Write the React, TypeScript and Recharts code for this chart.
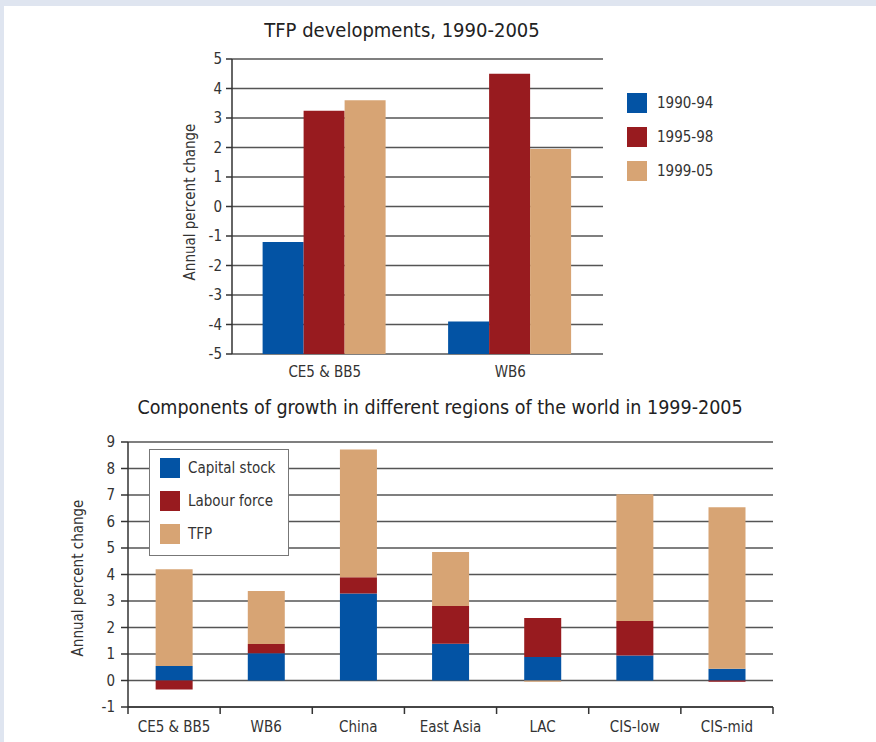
import { Bar, BarChart, CartesianGrid, XAxis, YAxis } from "recharts"

// top chart: TFP developments
const tfpGroups = ["CE5 & BB5", "WB6"]
const tfp1990to94 = [-1.2, -3.9]
const tfp1995to98 = [3.25, 4.5]
const tfp1999to05 = [3.6, 1.95]
const tfpTicks = [-5, -4, -3, -2, -1, 0, 1, 2, 3, 4, 5]

// bottom chart: components of growth 1999-2005
const regions = ["CE5 & BB5", "WB6", "China", "East Asia", "LAC", "CIS-low", "CIS-mid"]
const capitalStock = [0.55, 1.03, 3.28, 1.39, 0.89, 0.94, 0.44]
const labourForce = [-0.34, 0.35, 0.62, 1.42, 1.47, 1.31, -0.05]
const tfpShare = [3.65, 2.0, 4.82, 2.04, -0.05, 4.78, 6.1]
const growthTicks = [-1, 0, 1, 2, 3, 4, 5, 6, 7, 8, 9]

const BLUE = "#0353a4"
const RED = "#981b1f"
const TAN = "#d7a474"
const GRID = "#555"
const FONT = "'Liberation Sans Narrow', 'DejaVu Sans Condensed', 'Roboto', sans-serif"

// the original draws these bars up from the bottom of the axis, not from zero
const tfpBase = tfpTicks[0]
const tfpData = tfpGroups.map((name, i) => ({
  name,
  p1: [tfpBase, tfp1990to94[i]],
  p2: [tfpBase, tfp1995to98[i]],
  p3: [tfpBase, tfp1999to05[i]],
}))

const growthData = regions.map((name, i) => ({
  name,
  capital: capitalStock[i],
  labour: labourForce[i],
  tfp: tfpShare[i],
}))

const topLegend = [
  { label: "1990-94", color: BLUE },
  { label: "1995-98", color: RED },
  { label: "1999-05", color: TAN },
]
const bottomLegend = [
  { label: "Capital stock", color: BLUE },
  { label: "Labour force", color: RED },
  { label: "TFP", color: TAN },
]

// bottom chart layout
const B_LEFT = 128
const B_RIGHT = 773
const B_TOP = 52
const B_BOTTOM = 317
const bandWidth = (B_RIGHT - B_LEFT) / regions.length

const RegionTick = ({ x, index, payload }: any) => {
  const left = x - bandWidth / 2
  const right = x + bandWidth / 2
  return (
    <g>
      <line x1={left} x2={left} y1={B_BOTTOM} y2={B_BOTTOM + 7} stroke="#333" strokeWidth={1.5} />
      {index === regions.length - 1 && (
        <line x1={right} x2={right} y1={B_BOTTOM} y2={B_BOTTOM + 7} stroke="#333" strokeWidth={1.5} />
      )}
      <text x={x} y={B_BOTTOM + 20} dy="0.35em" textAnchor="middle" fill="#333" fontSize={15} fontFamily={FONT}>
        {payload.value}
      </text>
    </g>
  )
}

const GroupTick = ({ x, payload }: any) => (
  <text x={x} y={372} dy="0.35em" textAnchor="middle" fill="#333" fontSize={15} fontFamily={FONT}>
    {payload.value}
  </text>
)

const AxisTitle = ({ cx, cy, text }: { cx: number; cy: number; text: string }) => (
  <div
    style={{
      position: "absolute",
      left: cx - 110,
      top: cy - 10,
      width: 220,
      height: 20,
      lineHeight: "20px",
      textAlign: "center",
      fontSize: 15,
      color: "#333",
      transform: "rotate(-90deg)",
    }}
  >
    {text}
  </div>
)

export default function App() {
  const tickStyle = { fill: "#333", fontSize: 15, fontFamily: FONT }
  return (
    <div
      style={{
        position: "absolute",
        left: 0,
        top: 0,
        width: 876,
        height: 742,
        background: "#dfe5f0",
        fontFamily: FONT,
        overflow: "hidden",
      }}
    >
      <div style={{ position: "absolute", left: 4, top: 6, width: 872, height: 736, background: "#fff" }} />

      <div style={{ position: "absolute", left: 0, top: 18, width: 804, textAlign: "center", fontSize: 20, color: "#222" }}>
        TFP developments, 1990-2005
      </div>
      <AxisTitle cx={190} cy={202} text="Annual percent change" />

      <div style={{ position: "absolute", left: 0, top: 0 }}>
        <BarChart
          width={876}
          height={390}
          data={tfpData}
          margin={{ top: 59, right: 273, bottom: 6, left: 182 }}
          barCategoryGap="16.5%"
          barGap={0}
        >
          <CartesianGrid vertical={false} stroke={GRID} strokeWidth={1.5} />
          <XAxis dataKey="name" axisLine={false} tickLine={false} height={30} tick={<GroupTick />} />
          <YAxis
            width={50}
            domain={[-5, 5]}
            ticks={tfpTicks}
            interval={0}
            axisLine={{ stroke: "#333", strokeWidth: 1.5 }}
            tickLine={{ stroke: "#333", strokeWidth: 1.5 }}
            tickSize={6}
            tickMargin={4}
            tick={tickStyle}
          />
          <Bar dataKey="p1" fill={BLUE} isAnimationActive={false} />
          <Bar dataKey="p2" fill={RED} isAnimationActive={false} />
          <Bar dataKey="p3" fill={TAN} isAnimationActive={false} />
        </BarChart>
      </div>

      {topLegend.map((item, i) => (
        <div key={item.label} style={{ position: "absolute", left: 627, top: 93 + i * 34, height: 20, display: "flex", alignItems: "center" }}>
          <div style={{ width: 20, height: 20, background: item.color }} />
          <span style={{ marginLeft: 10, fontSize: 15, color: "#333" }}>{item.label}</span>
        </div>
      ))}

      <div style={{ position: "absolute", left: 0, top: 396, width: 880, textAlign: "center", fontSize: 19.5, color: "#222" }}>
        Components of growth in different regions of the world in 1999-2005
      </div>
      <AxisTitle cx={78} cy={578} text="Annual percent change" />

      <div style={{ position: "absolute", left: 0, top: 390 }}>
        <BarChart
          width={876}
          height={352}
          data={growthData}
          margin={{ top: B_TOP, right: 876 - B_RIGHT, bottom: 5, left: B_LEFT - 50 }}
          barCategoryGap="30%"
          stackOffset="sign"
        >
          <CartesianGrid vertical={false} stroke={GRID} strokeWidth={1.5} />
          <XAxis
            dataKey="name"
            height={30}
            axisLine={{ stroke: "#333", strokeWidth: 1.5 }}
            tickLine={false}
            tick={<RegionTick />}
            interval={0}
          />
          <YAxis
            width={50}
            domain={[-1, 9]}
            ticks={growthTicks}
            interval={0}
            axisLine={{ stroke: "#333", strokeWidth: 1.5 }}
            tickLine={{ stroke: "#333", strokeWidth: 1.5 }}
            tickSize={7}
            tickMargin={6}
            tick={tickStyle}
          />
          <Bar dataKey="capital" stackId="g" fill={BLUE} isAnimationActive={false} />
          <Bar dataKey="labour" stackId="g" fill={RED} isAnimationActive={false} />
          <Bar dataKey="tfp" stackId="g" fill={TAN} isAnimationActive={false} />
        </BarChart>
      </div>

      <div
        style={{
          position: "absolute",
          left: 149,
          top: 449,
          width: 138,
          height: 105,
          background: "#fff",
          border: "1.5px solid #777",
        }}
      >
        {bottomLegend.map((item, i) => (
          <div key={item.label} style={{ position: "absolute", left: 10, top: 8 + i * 33, height: 20, display: "flex", alignItems: "center" }}>
            <div style={{ width: 20, height: 20, background: item.color }} />
            <span style={{ marginLeft: 8, fontSize: 15, color: "#333", whiteSpace: "nowrap" }}>{item.label}</span>
          </div>
        ))}
      </div>
    </div>
  )
}
